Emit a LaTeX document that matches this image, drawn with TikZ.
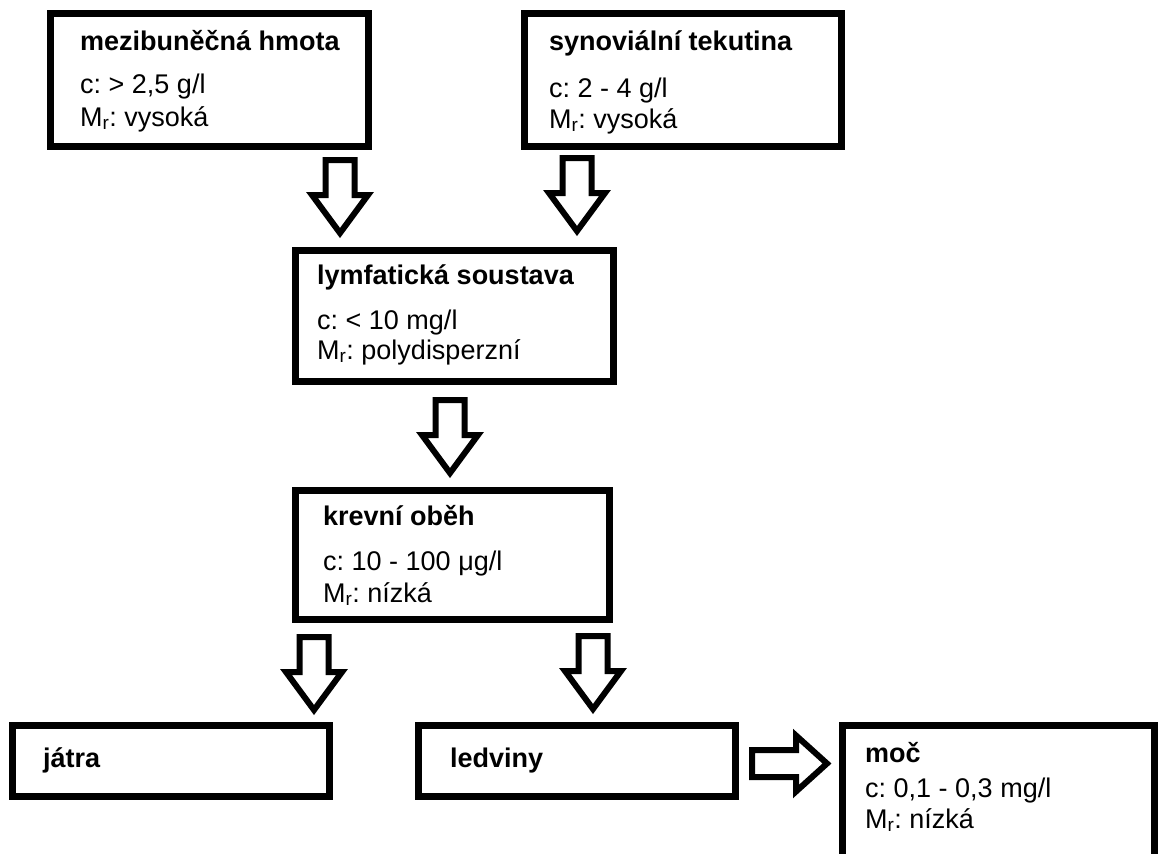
\documentclass[tikz,border=0pt]{standalone}
\usepackage{fontspec}
\setmainfont{Liberation Sans}
\frenchspacing
\usetikzlibrary{positioning, calc}

\begin{document}
\begin{tikzpicture}[x=1pt, y=-1pt,
  box/.style={draw, rectangle, line width=7pt, inner sep=0pt, minimum width=318pt},
  ttl/.style={anchor=base west, inner sep=0pt, font=\fontsize{27}{31}\selectfont\bfseries},
  txt/.style={anchor=base west, inner sep=0pt, font=\fontsize{27}{31}\selectfont},
  fat/.style={draw, line width=6pt, fill=white}
]
  \useasboundingbox (0,0) rectangle (1160,854);
  \clip (0,0) rectangle (1160,854);

  % boxes
  \node[box, minimum height=133pt] (mezi) at (209.5, 80) {};
  \node[box, minimum height=133pt, minimum width=317pt] (syn) at (683, 80) {};
  \node[box, minimum height=131pt] (lymf) at (454.5, 316) {};
  \node[box, minimum height=129pt, minimum width=314pt] (krev) at (452.5, 555) {};
  \node[box, minimum height=71pt, minimum width=317pt] (jatra) at (171, 761) {};
  \node[box, minimum height=71pt, minimum width=317pt] (ledv) at (577, 761) {};
  \node[box, minimum height=160pt, minimum width=312pt] (moc) at (998.5, 805.5) {};

  % texts
  \node[ttl] (mezi-t) at ([shift={(33,40)}]mezi.north west) {mezibuněčná hmota};
  \node[txt] (mezi-c) at ([shift={(33,83)}]mezi.north west) {c: > 2,5 g/l};
  \node[txt] (mezi-m) at ([shift={(33,116)}]mezi.north west) {M\textsubscript{r}: vysoká};

  \node[ttl] (syn-t) at ([shift={(28,40)}]syn.north west) {synoviální tekutina};
  \node[txt] (syn-c) at ([shift={(28,87)}]syn.north west) {c: 2 - 4 g/l};
  \node[txt] (syn-m) at ([shift={(28,118)}]syn.north west) {M\textsubscript{r}: vysoká};

  \node[ttl] (lymf-t) at ([shift={(25,37)}]lymf.north west) {lymfatická soustava};
  \node[txt] (lymf-c) at ([shift={(25,82)}]lymf.north west) {c: < 10 mg/l};
  \node[txt] (lymf-m) at ([shift={(25,112)}]lymf.north west) {M\textsubscript{r}: polydisperzní};

  \node[ttl] (krev-t) at ([shift={(31,38)}]krev.north west) {krevní oběh};
  \node[txt] (krev-c) at ([shift={(31,83)}]krev.north west) {c: 10 - 100 μg/l};
  \node[txt] (krev-m) at ([shift={(31,115)}]krev.north west) {M\textsubscript{r}: nízká};

  \node[ttl] (jatra-t) at ([shift={(34,45)}]jatra.north west) {játra};
  \node[ttl] (ledv-t) at ([shift={(35,45)}]ledv.north west) {ledviny};

  \node[ttl] (moc-t) at ([shift={(26,40)}]moc.north west) {moč};
  \node[txt] (moc-c) at ([shift={(26,75)}]moc.north west) {c: 0,1 - 0,3 mg/l};
  \node[txt] (moc-m) at ([shift={(26,106)}]moc.north west) {M\textsubscript{r}: nízká};

  % fat arrows (top of the shaft)
  \coordinate (ar1) at (340, 160);
  \coordinate (ar2) at (577, 158);
  \coordinate (ar3) at (450, 400);
  \coordinate (ar4) at (314, 637);
  \coordinate (ar5) at (593, 636);
  \foreach \a in {ar1, ar2, ar3, ar4, ar5}
    \draw[fat] (\a) ++(-14.5,0) -- ++(29,0) -- ++(0,35) -- ++(13.5,0)
      -- ++(-28,38) -- ++(-28,-38) -- ++(13.5,0) -- cycle;

  % sideways arrow to moc
  \coordinate (ar6) at (752, 763.5);
  \draw[fat] (ar6) ++(0,-13.5) -- ++(44,0) -- ++(0,-14.5) -- ++(31,28)
    -- ++(-31,28) -- ++(0,-14.5) -- ++(-44,0) -- cycle;
\end{tikzpicture}
\end{document}
